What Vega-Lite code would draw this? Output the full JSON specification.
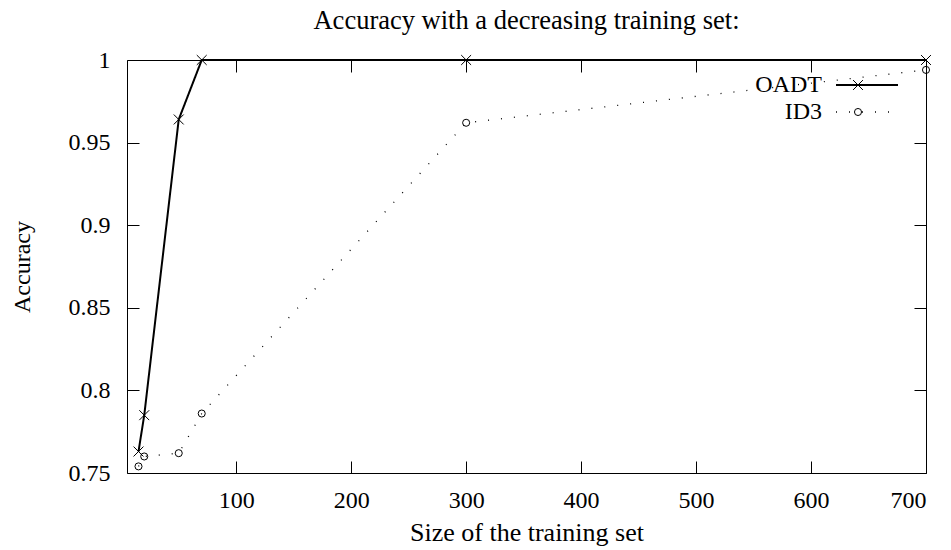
{
  "$schema": "https://vega.github.io/schema/vega-lite/v6.json",
  "width": 799,
  "height": 413,
  "autosize": {"type": "none"},
  "padding": {"left": 127, "top": 60, "right": 25, "bottom": 77},
  "background": "white",
  "title": {
    "text": "Accuracy with a decreasing training set:",
    "font": "Liberation Serif",
    "fontSize": 26.5,
    "fontWeight": "normal",
    "color": "black",
    "anchor": "middle",
    "offset": 14
  },
  "data": {
    "values": [
      {"size": 15, "accuracy": 0.763, "algorithm": "OADT"},
      {"size": 20, "accuracy": 0.785, "algorithm": "OADT"},
      {"size": 50, "accuracy": 0.964, "algorithm": "OADT"},
      {"size": 70, "accuracy": 1.0, "algorithm": "OADT"},
      {"size": 300, "accuracy": 1.0, "algorithm": "OADT"},
      {"size": 700, "accuracy": 1.0, "algorithm": "OADT"},
      {"size": 15, "accuracy": 0.754, "algorithm": "ID3"},
      {"size": 20, "accuracy": 0.760, "algorithm": "ID3"},
      {"size": 50, "accuracy": 0.762, "algorithm": "ID3"},
      {"size": 70, "accuracy": 0.786, "algorithm": "ID3"},
      {"size": 300, "accuracy": 0.962, "algorithm": "ID3"},
      {"size": 700, "accuracy": 0.994, "algorithm": "ID3"}
    ]
  },
  "layer": [
    {
      "mark": {"type": "line", "color": "black"},
      "encoding": {
        "x": {
          "field": "size", "type": "quantitative",
          "scale": {"domain": [5, 700], "nice": false, "zero": false},
          "axis": {
            "orient": "bottom", "values": [100, 200, 300, 400, 500, 600, 700], "format": "d",
            "tickSize": -12, "labelPadding": 27, "title": "Size of the training set",
            "titleFontSize": 26, "titlePadding": 7, "domain": false, "grid": false
          }
        },
        "y": {
          "field": "accuracy", "type": "quantitative",
          "scale": {"domain": [0.75, 1], "nice": false, "zero": false},
          "axis": {
            "orient": "left", "values": [0.75, 0.8, 0.85, 0.9, 0.95, 1], "format": "~g",
            "tickSize": -12, "labelPadding": 29, "title": "Accuracy",
            "titlePadding": 34, "domain": false, "grid": false
          }
        },
        "strokeDash": {
          "field": "algorithm", "type": "nominal",
          "scale": {"domain": ["OADT", "ID3"], "range": [[1, 0], [1, 12]]},
          "legend": {
            "orient": "none", "legendX": 728, "legendY": 13, "title": null,
            "symbolType": "M-5.17,0H5.17", "symbolSize": 144, "symbolStrokeColor": "black",
            "symbolStrokeWidth": 1.3, "symbolFillColor": "transparent",
            "labelAlign": "right", "labelOffset": -57,
            "labelFont": "Liberation Serif", "labelFontSize": 24, "labelColor": "black",
            "rowPadding": 3, "padding": 0
          }
        },
        "strokeWidth": {
          "field": "algorithm", "type": "nominal",
          "scale": {"domain": ["OADT", "ID3"], "range": [2, 1.3]},
          "legend": null
        }
      }
    },
    {
      "mark": {"type": "point", "filled": false, "color": "black", "size": 50, "strokeWidth": 1, "opacity": 1},
      "encoding": {
        "x": {
          "field": "size", "type": "quantitative",
          "axis": {
            "orient": "top", "values": [100, 200, 300, 400, 500, 600, 700], "labels": false,
            "tickSize": -12, "title": null, "domain": false, "grid": false
          }
        },
        "y": {
          "field": "accuracy", "type": "quantitative",
          "axis": {
            "orient": "right", "values": [0.75, 0.8, 0.85, 0.9, 0.95, 1], "labels": false,
            "tickSize": -12, "title": null, "domain": false, "grid": false
          }
        },
        "shape": {
          "field": "algorithm", "type": "nominal", "sort": ["OADT", "ID3"],
          "scale": {"range": ["M-1.4,-1.4L1.4,1.4M-1.4,1.4L1.4,-1.4", "circle"]},
          "legend": {
            "orient": "none", "legendX": 719, "legendY": 13, "title": null,
            "labelExpr": "''", "symbolSize": 50, "symbolStrokeColor": "black",
            "symbolStrokeWidth": 1, "rowPadding": 3, "padding": 0,
            "labelFontSize": 24
          }
        }
      }
    }
  ],
  "resolve": {"axis": {"x": "independent", "y": "independent"}},
  "config": {
    "view": {"stroke": "black", "strokeWidth": 1},
    "axis": {
      "labelFont": "Liberation Serif", "labelFontSize": 24, "labelColor": "black",
      "titleFont": "Liberation Serif", "titleFontSize": 24, "titleFontWeight": "normal",
      "titleColor": "black", "tickColor": "black", "tickWidth": 1
    }
  }
}
